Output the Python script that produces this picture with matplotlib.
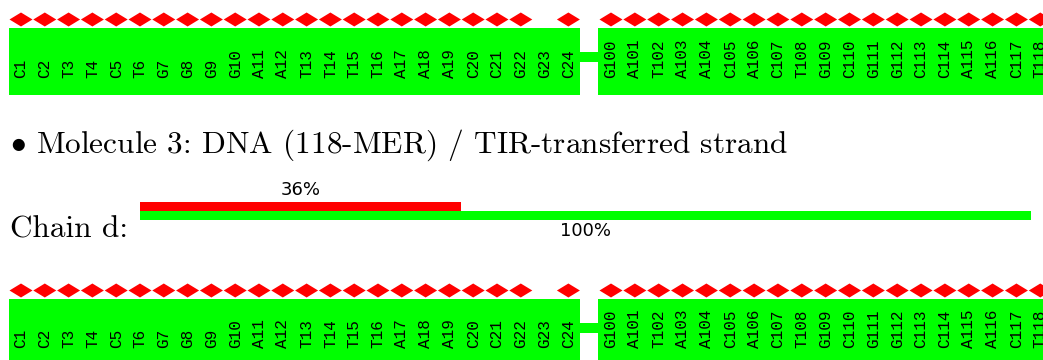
# Molecule 3 chain d residue summary
import matplotlib
matplotlib.use("Agg")
import matplotlib.pyplot as plt
from matplotlib.patches import Rectangle, Polygon

plt.rcParams["mathtext.fontset"] = "cm"

seg1 = ["C1", "C2", "T3", "T4", "C5", "T6", "G7", "G8", "G9", "G10", "A11", "A12",
        "T13", "T14", "T15", "T16", "A17", "A18", "A19", "C20", "C21", "G22", "G23", "C24"]
seg2 = ["G100", "A101", "T102", "A103", "A104", "C105", "A106", "C107", "T108", "G109",
        "C110", "G111", "G112", "C113", "C114", "A115", "A116", "C117", "T118"]
no_outlier = ["G23"]

title = "Molecule 3: DNA (118-MER) / TIR-transferred strand"
chain = "Chain d:"
quality_frac = 0.36
total_frac = 1.00

green = "#00ff00"
red = "#ff0000"

fig = plt.figure(figsize=(10.43, 3.6), dpi=100)
ax = fig.add_axes([0, 0, 1, 1])
ax.set_xlim(0, 1043)
ax.set_ylim(360, 0)
ax.axis("off")

pitch = 23.8
x1 = [21 + i * pitch for i in range(len(seg1))]
x2 = [611 + i * 23.85 for i in range(len(seg2))]


def draw_strip(y0, lab_off):
    # residue boxes
    l1, r1 = x1[0] - 12, x1[-1] + 12
    l2 = x2[0] - 13
    ax.add_patch(Rectangle((l1, y0), r1 - l1, 67, color=green, lw=0))
    ax.add_patch(Rectangle((r1, y0 + 24), l2 - r1, 10, color=green, lw=0))
    ax.add_patch(Rectangle((l2, y0), 1100 - l2, 67, color=green, lw=0))
    for names, xs in ((seg1, x1), (seg2, x2)):
        for n, x in zip(names, xs):
            if n not in no_outlier:
                dy = y0 - 8.5
                ax.add_patch(Polygon([(x - 11.5, dy), (x, dy - 7), (x + 11.5, dy), (x, dy + 7)],
                                     closed=True, color=red, lw=0))
            ax.text(x, y0 + lab_off, n, rotation=90, ha="center", va="bottom",
                    family="Liberation Mono", fontsize=11.5, color="black")


draw_strip(28, 50)
draw_strip(299, 49)

# molecule header
ax.text(10, 153, r"$\bullet$ " + title, family="cmr10", fontsize=22.5,
        ha="left", va="baseline")
ax.text(10, 237, chain, family="cmr10", fontsize=22.5, ha="left", va="baseline")

# chain bar
bx0, bx1 = 140, 1031
bw = bx1 - bx0
ax.add_patch(Rectangle((bx0, 202), bw * quality_frac, 9, color=red, lw=0))
ax.add_patch(Rectangle((bx0, 211), bw * total_frac, 9, color=green, lw=0))
ax.text(bx0 + bw * quality_frac / 2, 199, f"{quality_frac:.0%}", ha="center", va="bottom",
        family="DejaVu Sans", fontsize=13)
ax.text(bx0 + bw * total_frac / 2, 222, f"{total_frac:.0%}", ha="center", va="top",
        family="DejaVu Sans", fontsize=13)

fig.savefig("out.png", dpi=100)
